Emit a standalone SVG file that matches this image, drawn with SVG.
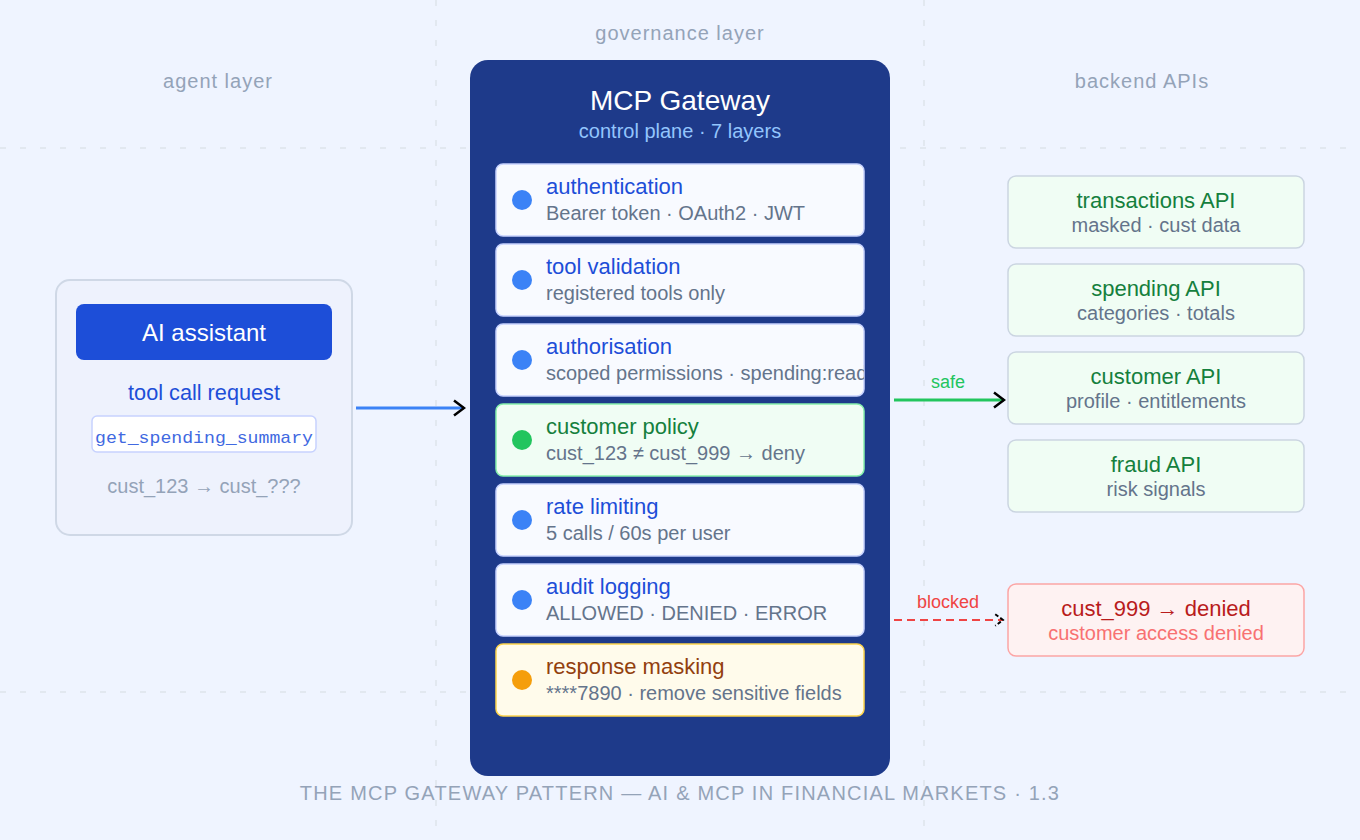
<svg xmlns="http://www.w3.org/2000/svg" width="1360" height="840" viewBox="0 0 1360 840">
<defs>
<style>
text{font-family:"Liberation Sans",Arial,sans-serif}
.col{font-size:20px;fill:#94a3b8;text-anchor:middle;letter-spacing:1px}
.grid{stroke:#e2e8f0;stroke-width:2;stroke-dasharray:6 14;fill:none}
.card{fill:#f8faff;stroke:#c7d2fe;stroke-width:1.5}
.card.g{fill:#f0fdf4;stroke:#86efac}
.card.y{fill:#fffbeb;stroke:#fcd34d}
.dot{fill:#3b82f6}
.lt{font-size:22px;fill:#1d4ed8}
.ls{font-size:20px;fill:#64748b}
.api{fill:#f0fdf4;stroke:#cbd5e1;stroke-width:1.5}
.at{font-size:22px;fill:#15803d;text-anchor:middle}
.as{font-size:20px;fill:#64748b;text-anchor:middle}
</style>
<marker id="arr" viewBox="0 0 14 18" refX="12" refY="9" markerWidth="14" markerHeight="18" markerUnits="userSpaceOnUse" orient="auto">
<path d="M2,1.5 L12,9 L2,16.5" fill="none" stroke="#000" stroke-width="2.5"/>
</marker>
<marker id="arrs" viewBox="0 0 14 18" refX="12" refY="9" markerWidth="11" markerHeight="14" markerUnits="userSpaceOnUse" orient="auto">
<path d="M2,1.5 L12,9 L2,16.5" fill="none" stroke="#000" stroke-width="2.5" stroke-dasharray="5 3"/>
</marker>
<clipPath id="cardclip"><rect x="496" y="324" width="368" height="72" rx="7"/></clipPath>
</defs>
<rect width="1360" height="840" fill="#eff4ff"/>
<g id="grid">
<line class="grid" x1="436" y1="0" x2="436" y2="840"/>
<line class="grid" x1="924" y1="0" x2="924" y2="840"/>
<line class="grid" x1="0" y1="148" x2="1360" y2="148"/>
<line class="grid" x1="0" y1="692" x2="1360" y2="692"/>
</g>
<g id="column-labels">
<text class="col" x="218" y="88">agent layer</text>
<text class="col" x="680" y="40">governance layer</text>
<text class="col" x="1142" y="88">backend APIs</text>
</g>
<g id="agent">
<rect x="56" y="280" width="296" height="255" rx="14" fill="#eef2fd" stroke="#cfd8e6" stroke-width="2"/>
<rect x="76" y="304" width="256" height="56" rx="8" fill="#1d4ed8"/>
<text x="204" y="341" font-size="24" fill="#fff" text-anchor="middle">AI assistant</text>
<text x="204" y="400" font-size="21.7" fill="#1d4ed8" text-anchor="middle">tool call request</text>
<rect x="92" y="416" width="224" height="36" rx="5" fill="#fff" stroke="#c7d2fe" stroke-width="1.5"/>
<text x="204" y="443" font-size="17" fill="#4169e1" text-anchor="middle" style="font-family:'Liberation Mono','Courier New',monospace" textLength="218" lengthAdjust="spacingAndGlyphs">get_spending_summary</text>
<text x="204" y="493" font-size="20" fill="#94a3b8" text-anchor="middle">cust_123 → cust_???</text>
</g>
<g id="gateway">
<rect x="470" y="60" width="420" height="716" rx="18" fill="#1e3a8a"/>
<text x="680" y="110" font-size="28" fill="#fff" text-anchor="middle">MCP Gateway</text>
<text x="680" y="138" font-size="20" fill="#93c5fd" text-anchor="middle">control plane · 7 layers</text>
</g>
<g id="layer-authentication">
<rect class="card" x="496" y="164" width="368" height="72" rx="7"/>
<circle class="dot" cx="522" cy="200" r="10"/>
<text class="lt" x="546" y="194">authentication</text>
<text class="ls" x="546" y="220">Bearer token · OAuth2 · JWT</text>
</g>
<g id="layer-tool-validation">
<rect class="card" x="496" y="244" width="368" height="72" rx="7"/>
<circle class="dot" cx="522" cy="280" r="10"/>
<text class="lt" x="546" y="274">tool validation</text>
<text class="ls" x="546" y="300">registered tools only</text>
</g>
<g id="layer-authorisation">
<rect class="card" x="496" y="324" width="368" height="72" rx="7"/>
<circle class="dot" cx="522" cy="360" r="10"/>
<text class="lt" x="546" y="354">authorisation</text>
<text class="ls" x="546" y="380" clip-path="url(#cardclip)">scoped permissions · spending:read</text>
</g>
<g id="layer-customer-policy">
<rect class="card g" x="496" y="404" width="368" height="72" rx="7"/>
<circle cx="522" cy="440" r="10" fill="#22c55e"/>
<text class="lt" x="546" y="434" style="fill:#15803d">customer policy</text>
<text class="ls" x="546" y="460">cust_123 ≠ cust_999 → deny</text>
</g>
<g id="layer-rate-limiting">
<rect class="card" x="496" y="484" width="368" height="72" rx="7"/>
<circle class="dot" cx="522" cy="520" r="10"/>
<text class="lt" x="546" y="514">rate limiting</text>
<text class="ls" x="546" y="540">5 calls / 60s per user</text>
</g>
<g id="layer-audit-logging">
<rect class="card" x="496" y="564" width="368" height="72" rx="7"/>
<circle class="dot" cx="522" cy="600" r="10"/>
<text class="lt" x="546" y="594">audit logging</text>
<text class="ls" x="546" y="620">ALLOWED · DENIED · ERROR</text>
</g>
<g id="layer-response-masking">
<rect class="card y" x="496" y="644" width="368" height="72" rx="7"/>
<circle cx="522" cy="680" r="10" fill="#f59e0b"/>
<text class="lt" x="546" y="674" style="fill:#92400e">response masking</text>
<text class="ls" x="546" y="700">****7890 · remove sensitive fields</text>
</g>
<g id="api-transactions">
<rect class="api" x="1008" y="176" width="296" height="72" rx="8"/>
<text class="at" x="1156" y="208">transactions API</text>
<text class="as" x="1156" y="232">masked · cust data</text>
</g>
<g id="api-spending">
<rect class="api" x="1008" y="264" width="296" height="72" rx="8"/>
<text class="at" x="1156" y="296">spending API</text>
<text class="as" x="1156" y="320">categories · totals</text>
</g>
<g id="api-customer">
<rect class="api" x="1008" y="352" width="296" height="72" rx="8"/>
<text class="at" x="1156" y="384">customer API</text>
<text class="as" x="1156" y="408">profile · entitlements</text>
</g>
<g id="api-fraud">
<rect class="api" x="1008" y="440" width="296" height="72" rx="8"/>
<text class="at" x="1156" y="472">fraud API</text>
<text class="as" x="1156" y="496">risk signals</text>
</g>
<g id="denied">
<rect x="1008" y="584" width="296" height="72" rx="8" fill="#fef2f2" stroke="#fca5a5" stroke-width="1.5"/>
<text x="1156" y="616" font-size="22" fill="#b91c1c" text-anchor="middle">cust_999 → denied</text>
<text x="1156" y="640" font-size="20" fill="#f87171" text-anchor="middle">customer access denied</text>
</g>
<g id="connectors">
<line x1="356" y1="408" x2="464" y2="408" stroke="#3b82f6" stroke-width="3" marker-end="url(#arr)"/>
<line x1="894" y1="400" x2="1004" y2="400" stroke="#22c55e" stroke-width="3" marker-end="url(#arr)"/>
<text x="948" y="388" font-size="18" fill="#22c55e" text-anchor="middle">safe</text>
<line x1="894" y1="620" x2="1003" y2="620" stroke="#ef4444" stroke-width="2" stroke-dasharray="8 5" marker-end="url(#arrs)"/>
<text x="948" y="608" font-size="18" fill="#ef4444" text-anchor="middle">blocked</text>
</g>
<text x="680" y="800" font-size="20" fill="#94a3b8" text-anchor="middle" letter-spacing="1.2">THE MCP GATEWAY PATTERN — AI &amp; MCP IN FINANCIAL MARKETS · 1.3</text>
</svg>
